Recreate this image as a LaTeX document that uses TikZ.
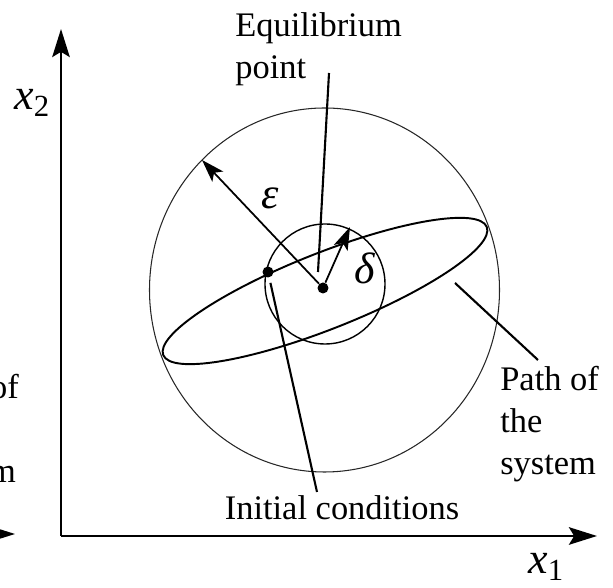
\documentclass[tikz,border=0pt]{standalone}
\usepackage{fontspec}
\setmainfont{Liberation Serif}
\usetikzlibrary{arrows.meta}

\tikzset{
  axis/.style={line width=1.1pt, -{Stealth[length=16pt, width=10pt, inset=3pt]}},
  vec/.style={line width=1pt, -{Stealth[length=13pt, width=8.5pt, inset=3pt]}},
  leader/.style={line width=1.2pt},
  dotnode/.style={circle, fill, inner sep=0pt, minimum size=0.22cm},
  txt/.style={inner sep=0pt, align=left, font=\fontsize{19.6}{23.8}\selectfont},
  axlabel/.style={inner sep=0pt, font=\fontsize{25}{30}\selectfont},
}

\begin{document}
\begin{tikzpicture}[x=0.02cm, y=0.02cm]
  \useasboundingbox (0,0) rectangle (613,588);
  \clip (0,0) rectangle (613,588);

  % axes
  \coordinate (O) at (61,52);
  \coordinate (xend) at (597,52);
  \coordinate (yend) at (61,559);
  \draw[axis] (O) -- (xend);
  \draw[axis] (O) -- (yend);
  \node[axlabel, anchor=base west] (xlab) at (528,14) {\textit{x}\textsubscript{1}};
  \node[axlabel, anchor=base west] (ylab) at (14,478) {\textit{x}\textsubscript{2}};

  % piece of the figure next to this one
  \coordinate (prevO) at (-150,54);
  \coordinate (prevxend) at (15,54);
  \draw[axis] (prevO) -- (prevxend);
  \node[txt, anchor=north west] (prevpath) at (-80,214) {Path of\\the\\system};

  % regions
  \draw[line width=0.6pt, black!85] (324.5,298) ellipse [x radius=175, y radius=182];
  \draw[line width=0.8pt] (325,304) circle [radius=60];
  \draw[line width=1.1pt] (325,297) ellipse [x radius=174, y radius=38, rotate=21.6];

  % points
  \node[dotnode] (eq) at (323,300) {};
  \node[dotnode] (ic) at (268,316) {};

  % radii
  \coordinate (epstip) at (202,428);
  \coordinate (deltip) at (350,361);
  \draw[vec] (eq) -- (epstip);
  \draw[vec] (eq) -- (deltip);
  \node[axlabel] (epslab) at (270,390) {\textit{ε}};
  \node[axlabel] (dellab) at (365,320) {\textit{δ}};

  % labels
  \node[txt, anchor=north west] (eqtext) at (235,576) {Equilibrium\\point};
  \node[txt, anchor=base] (ictext) at (342,68) {Initial conditions};
  \node[txt, anchor=north west] (pathtext) at (500,222) {Path of\\the\\system};

  \coordinate (eqtop) at (329,515);
  \coordinate (eqbot) at (318,316);
  \coordinate (icfoot) at (317,96);
  \coordinate (pathfoot) at (538,228);
  \coordinate (pathpt) at (455,305);
  \draw[leader] (eqtop) -- (eqbot);
  \draw[leader, shorten >=3pt] (icfoot) -- (ic);
  \draw[leader] (pathfoot) -- (pathpt);
\end{tikzpicture}
\end{document}
